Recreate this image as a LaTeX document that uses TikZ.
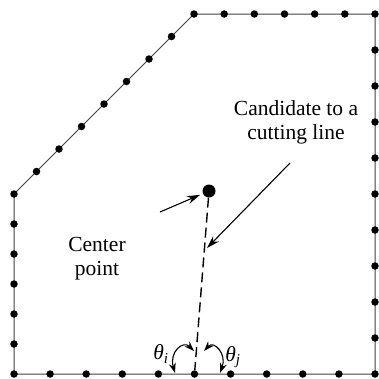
\documentclass[tikz,border=0pt]{standalone}
\usepackage{fontspec}
\setmainfont{Liberation Serif}
\usetikzlibrary{arrows.meta,positioning,calc}

\begin{document}
\begin{tikzpicture}[x=1pt, y=-1pt,
    edge/.style={line width=1pt, black!75},
    pdot/.style={circle, fill=black, inner sep=0pt, minimum size=7.5pt},
    cdot/.style={circle, fill=black, inner sep=0pt, minimum size=13pt},
    lbl/.style={align=center, inner sep=0pt, font=\fontsize{21.5}{24}\selectfont},
    pointer/.style={-{Stealth[length=13pt, width=8pt]}, line width=1.1pt},
    cutline/.style={dash pattern=on 10pt off 5pt, line width=1.4pt},
    angarrow/.style={{Stealth[length=10pt, width=7pt]}-{Stealth[length=10pt, width=7pt]}, line width=1.1pt}
]
\useasboundingbox (0,0) rectangle (379,378);

% Polygon corners
\coordinate (bl) at (14,374);
\coordinate (ml) at (14,194);
\coordinate (tl) at (194,14);
\coordinate (tr) at (375,14);
\coordinate (br) at (375,374);
\draw[edge] (bl) -- (ml) -- (tl) -- (tr) -- (br) -- cycle;

% Boundary points
\foreach \k in {0,...,6} \node[pdot] (l\k) at ($(bl)!\k/6!(ml)$) {};
\foreach \k in {1,...,8} \node[pdot] (d\k) at ($(ml)!\k/8!(tl)$) {};
\foreach \k in {1,...,6} \node[pdot] (t\k) at ($(tl)!\k/6!(tr)$) {};
\foreach \k in {1,...,10} \node[pdot] (r\k) at ($(tr)!\k/10!(br)$) {};
\foreach \k in {1,...,9} \node[pdot] (b\k) at ($(bl)!\k/10!(br)$) {};

% Center point and candidate line
\node[cdot] (ctr) at (209,191) {};
\draw[cutline] (ctr) -- (b5);

% Labels
\node[lbl] (clbl) at (97,259) {Center\\point};
\node[lbl] (klbl) at (296,122) {Candidate to a\\cutting line};
\coordinate (ctail) at (160,212);
\coordinate (ktail) at (290,163);
\coordinate (khead) at (207,248);
\draw[pointer, shorten >=3pt] (ctail) -- (ctr);
\draw[pointer] (ktail) -- (khead);

% Angles
\coordinate (ai1) at (194,351);
\coordinate (ai2) at (175,373);
\coordinate (aj1) at (204,351);
\coordinate (aj2) at (220,373);
\draw[angarrow] (ai1) .. controls (183,340) and (169,352) .. (ai2);
\draw[angarrow] (aj1) .. controls (214,340) and (227,354) .. (aj2);
\node[lbl] (thi) at (161,354) {\itshape θ\textsubscript{i}};
\node[lbl] (thj) at (233,357) {\itshape θ\textsubscript{j}};

\end{tikzpicture}
\end{document}
